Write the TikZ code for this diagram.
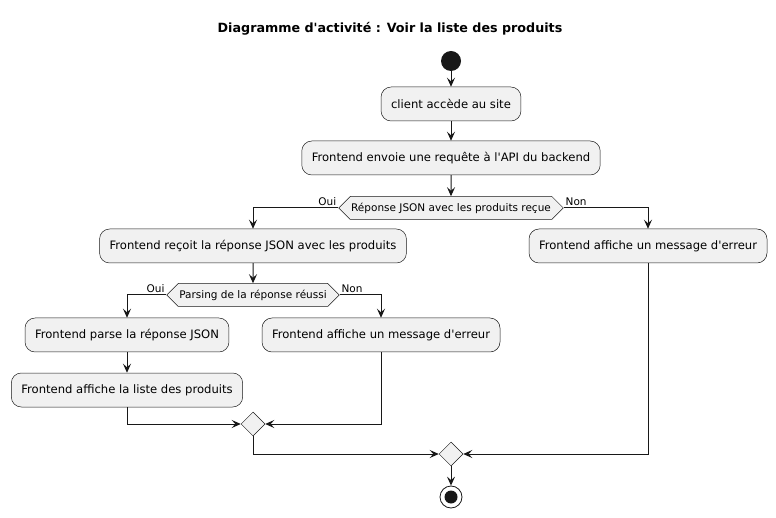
\documentclass[tikz,border=0pt]{standalone}
\usepackage{fontspec}
\setmainfont{DejaVu Sans}[Ligatures=TeXOff]
\usetikzlibrary{arrows.meta, positioning, shapes.geometric, shapes.symbols}
\definecolor{boxfill}{HTML}{F1F1F1}
\definecolor{boxline}{HTML}{181818}

\begin{document}
\begin{tikzpicture}[x=1pt, y=-1pt,
    actbox/.style={draw=boxline, line width=0.5pt, fill=boxfill, rounded corners=10pt,
      inner xsep=10pt, minimum height=34pt, font=\fontsize{11.6}{13}\selectfont},
    choice/.style={signal, signal to=east and west, signal pointer angle=90, draw=boxline,
      line width=0.5pt, fill=boxfill, minimum height=23pt, inner xsep=1pt,
      font=\fontsize{10.5}{12}\selectfont},
    merge/.style={diamond, draw=boxline, line width=0.5pt, fill=boxfill, minimum size=24pt, inner sep=0pt},
    flow/.style={-{Stealth[length=9pt, width=8pt, inset=3.5pt]}, line width=1pt, draw=boxline},
    lbl/.style={font=\fontsize{10.5}{12}\selectfont, inner sep=1.5pt}]
  \useasboundingbox (0,0) rectangle (776,518);

  \node[font=\bfseries\fontsize{12.7}{14}\selectfont] (titre) at (390,29)
    {Diagramme d'activité : Voir la liste des produits};

  % flux principal
  \node[circle, fill=boxline, minimum size=20pt, inner sep=0pt] (debut) at (451,61) {};
  \node[actbox] (client) at (451,104) {client accède au site};
  \node[actbox] (requete) at (451,158) {Frontend envoie une requête à l'API du backend};
  \node[choice] (reponse) at (451,208) {Réponse JSON avec les produits reçue};

  % branches
  \node[actbox] (recoit) at (253,246) {Frontend reçoit la réponse JSON avec les produits};
  \node[actbox] (erreur1) at (648,246) {Frontend affiche un message d'erreur};
  \node[choice] (parsing) at (253,295) {Parsing de la réponse réussi};
  \node[actbox] (parse) at (127,335) {Frontend parse la réponse JSON};
  \node[actbox] (erreur2) at (381,335) {Frontend affiche un message d'erreur};
  \node[actbox] (liste) at (127,390) {Frontend affiche la liste des produits};

  % fusions et fin
  \node[merge] (fusion1) at (253,424) {};
  \node[merge] (fusion2) at (451,454) {};
  \node[circle, draw=boxline, line width=0.8pt, fill=white, minimum size=22pt, inner sep=0pt,
    path picture={\fill[boxline] (path picture bounding box.center) circle (6.5pt);}] (fin) at (451,497) {};

  \draw[flow] (debut) -- (client);
  \draw[flow] (client) -- (requete);
  \draw[flow] (requete) -- (reponse);
  \draw[flow] (reponse.west) node[lbl, anchor=south east] (oui1) {Oui} -| (recoit.north);
  \draw[flow] (reponse.east) node[lbl, anchor=south west] (non1) {Non} -| (erreur1.north);
  \draw[flow] (recoit) -- (parsing);
  \draw[flow] (parsing.west) node[lbl, anchor=south east] (oui2) {Oui} -| (parse.north);
  \draw[flow] (parsing.east) node[lbl, anchor=south west] (non2) {Non} -| (erreur2.north);
  \draw[flow] (parse) -- (liste);
  \draw[flow] (liste.south) |- (fusion1.west);
  \draw[flow] (erreur2.south) |- (fusion1.east);
  \draw[flow] (fusion1.south) |- (fusion2.west);
  \draw[flow] (erreur1.south) |- (fusion2.east);
  \draw[flow] (fusion2) -- (fin);
\end{tikzpicture}
\end{document}
